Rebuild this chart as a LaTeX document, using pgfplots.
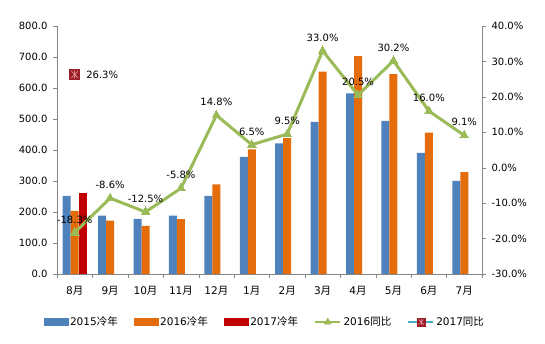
\documentclass[border=0pt]{standalone}
\usepackage{fontspec}
\setmainfont{DejaVu Sans}
\newfontfamily\cjk{Noto Sans CJK SC}
\usepackage{pgfplots}
\pgfplotsset{compat=1.18}
\definecolor{c15}{HTML}{4F81BD}
\definecolor{c16}{HTML}{E46C0A}
\definecolor{c17}{HTML}{C00000}
\definecolor{cgr}{HTML}{9BBB59}
\definecolor{cteal}{HTML}{4BACC6}
\definecolor{mkred}{HTML}{9C1F2A}
\definecolor{mkpink}{HTML}{E8A0A8}
\definecolor{axgray}{HTML}{868686}
\pgfdeclareplotmark{sqstar}{%
  \pgfsetfillcolor{mkred}%
  \pgfpathrectangle{\pgfqpoint{-\pgfplotmarksize}{-\pgfplotmarksize}}{\pgfqpoint{2\pgfplotmarksize}{2\pgfplotmarksize}}%
  \pgfusepathqfill
  \pgfsetstrokecolor{mkpink}\pgfsetlinewidth{0.6pt}%
  \pgfpathmoveto{\pgfqpoint{0pt}{-0.75\pgfplotmarksize}}\pgfpathlineto{\pgfqpoint{0pt}{0.75\pgfplotmarksize}}%
  \pgfpathmoveto{\pgfqpoint{-0.6\pgfplotmarksize}{-0.6\pgfplotmarksize}}\pgfpathlineto{\pgfqpoint{0.6\pgfplotmarksize}{0.6\pgfplotmarksize}}%
  \pgfpathmoveto{\pgfqpoint{-0.6\pgfplotmarksize}{0.6\pgfplotmarksize}}\pgfpathlineto{\pgfqpoint{0.6\pgfplotmarksize}{-0.6\pgfplotmarksize}}%
  \pgfusepathqstroke
}
\begin{document}
\begin{tikzpicture}[font=\fontsize{10}{12}\selectfont]
\path[use as bounding box] (0,0) rectangle (545pt,344pt);
\begin{axis}[
  at={(57pt,70pt)}, anchor=south west,
  width=425pt, height=248pt, scale only axis,
  xmin=-0.5, xmax=11.5, ymin=0, ymax=800,
  axis x line*=bottom, axis y line*=left,
  axis line style={axgray},
  tick align=outside, major tick length=4pt,
  tick style={axgray},
  xtick={-0.5,0.5,...,11.5}, xticklabels={},
  ytick={0,100,...,800},
  yticklabels={0.0,100.0,200.0,300.0,400.0,500.0,600.0,700.0,800.0},
  yticklabel style={xshift=-2pt},
]
\addplot[ybar, bar width=8pt, bar shift=-8pt, fill=c15, draw=none] coordinates {
(0,252) (1,188) (2,178) (3,188) (4,252) (5,378) (6,421) (7,491) (8,583) (9,494) (10,391) (11,300)};
\addplot[ybar, bar width=8pt, bar shift=0pt, fill=c16, draw=none] coordinates {
(0,204) (1,172) (2,155) (3,177) (4,289) (5,402) (6,438) (7,653) (8,703) (9,645) (10,456) (11,329)};
\addplot[ybar, bar width=8pt, bar shift=8pt, fill=c17, draw=none] coordinates {
(0,260)};
\end{axis}
\begin{axis}[
  at={(57pt,70pt)}, anchor=south west,
  width=425pt, height=248pt, scale only axis,
  xmin=-0.5, xmax=11.5, ymin=-30, ymax=40,
  axis x line*=bottom, axis y line*=right,
  axis line style={axgray},
  tick align=outside, major tick length=4pt,
  tick style={axgray},
  xtick={0,...,11},
  xticklabels={8{\cjk 月},9{\cjk 月},10{\cjk 月},11{\cjk 月},12{\cjk 月},1{\cjk 月},2{\cjk 月},3{\cjk 月},4{\cjk 月},5{\cjk 月},6{\cjk 月},7{\cjk 月}},
  x tick style={draw=none},
  xticklabel style={yshift=-5pt, font=\fontsize{10.5}{12}\selectfont},
  ytick={-30,-20,...,40},
  yticklabels={-30.0\%,-20.0\%,-10.0\%,0.0\%,10.0\%,20.0\%,30.0\%,40.0\%},
  yticklabel style={xshift=2pt},
  legend style={at={(0.489,-0.194)}, anchor=center, draw=none, legend columns=5,
    /tikz/every even column/.append style={column sep=14pt}, font=\fontsize{10.5}{12}\selectfont},
  legend cell align=left,
]
\addplot[cgr, line width=3pt, mark=triangle*, mark size=5pt, mark options={fill=cgr, draw=cgr, line width=0pt},
  point meta=explicit symbolic, nodes near coords,
  every node near coord/.style={anchor=south, yshift=6pt, black, font=\fontsize{10}{12}\selectfont},
  forget plot] coordinates {
(0,-18.3) [-18.3\%] (1,-8.6) [-8.6\%] (2,-12.5) [-12.5\%] (3,-5.8) [-5.8\%] (4,14.8) [14.8\%] (5,6.5) [6.5\%]
(6,9.5) [9.5\%] (7,33.0) [33.0\%] (8,20.5) [20.5\%] (9,30.2) [30.2\%] (10,16.0) [16.0\%] (11,9.1) [9.1\%]};
\addplot[cteal, only marks, mark=sqstar, mark size=5.5pt,
  point meta=explicit symbolic, nodes near coords,
  every node near coord/.style={anchor=west, xshift=8pt, black, font=\fontsize{10}{12}\selectfont},
  forget plot] coordinates {(0,26.3) [26.3\%]};
\addlegendimage{legend image code/.code={\fill[c15] (0pt,-3.5pt) rectangle (24pt,3.5pt);}}
\addlegendentry{2015{\cjk 冷年}}
\addlegendimage{legend image code/.code={\fill[c16] (0pt,-3.5pt) rectangle (24pt,3.5pt);}}
\addlegendentry{2016{\cjk 冷年}}
\addlegendimage{legend image code/.code={\fill[c17] (0pt,-3.5pt) rectangle (24pt,3.5pt);}}
\addlegendentry{2017{\cjk 冷年}}
\addlegendimage{legend image code/.code={\draw[cgr, line width=2.5pt] (0pt,0pt) -- (25pt,0pt);
   \fill[cgr] (12.5pt,0pt) +(90:4pt) -- +(210:4pt) -- +(330:4pt) -- cycle;}}
\addlegendentry{2016{\cjk 同比}}
\addlegendimage{legend image code/.code={\draw[cteal, line width=2pt] (0pt,0pt) -- (25pt,0pt);
   \fill[mkred] (9pt,-4pt) rectangle (17pt,4pt);
   \draw[mkpink, line width=0.5pt] (13pt,-3pt) -- (13pt,3pt) (10.5pt,-2.5pt) -- (15.5pt,2.5pt) (10.5pt,2.5pt) -- (15.5pt,-2.5pt);}}
\addlegendentry{2017{\cjk 同比}}
\end{axis}
\end{tikzpicture}
\end{document}
